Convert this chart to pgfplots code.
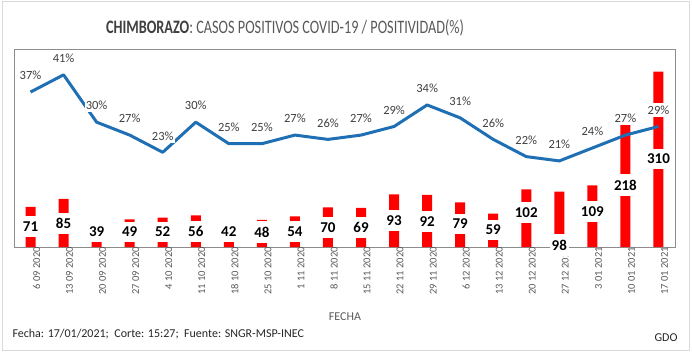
\documentclass[border=0pt]{standalone}
\usepackage{graphicx}
\usepackage{pgfplots}
\pgfplotsset{compat=1.18}
\usepackage{fontspec}
\setmainfont{Carlito}
\definecolor{barred}{RGB}{255,0,0}
\definecolor{lineblue}{RGB}{31,111,180}
\definecolor{txt}{RGB}{64,64,64}
\definecolor{tickc}{RGB}{89,89,89}
\begin{document}
\begin{tikzpicture}[x=1pt,y=1pt]
\useasboundingbox (0,0) rectangle (692,359);
\draw[draw=black!15, line width=1pt] (2,9) rectangle (689,357);
% title
\node[font=\fontsize{19}{19}\selectfont, text=tickc] at (285,331)
  {\scalebox{0.75}[1]{\textcolor{txt}{\textbf{CHIMBORAZO}}: CASOS POSITIVOS COVID-19 / POSITIVIDAD(\%)}};
\node[font=\fontsize{12}{12}\selectfont, text=tickc] at (345,42) {FECHA};
\node[font=\fontsize{12}{12}\selectfont, text=black!85, anchor=west] at (9,25)
  {Fecha: 17/01/2021;\ \ Corte: 15:27;\ \ Fuente: SNGR-MSP-INEC};
\node[font=\fontsize{12}{12}\selectfont, text=black!85, anchor=east] at (681,21) {GDO};

\begin{axis}[at={(14pt,112pt)}, anchor=south west, scale only axis,
  width=661pt, height=198pt,
  xmin=-0.5, xmax=19.5, ymin=0, ymax=350,
  axis line style={draw=black!45, line width=0.6pt},
  ytick=\empty, xtick={0,...,19}, major tick length=0pt,
  xticklabels={6 09 2020,13 09 2020,20 09 2020,27 09 2020,4 10 2020,11 10 2020,18 10 2020,25 10 2020,1 11 2020,8 11 2020,15 11 2020,22 11 2020,29 11 2020,6 12 2020,13 12 2020,20 12 2020,27 12 2020,3 01 2021,10 01 2021,17 01 2021},
  xticklabel style={rotate=90, anchor=east, inner sep=0pt, yshift=-6pt,
    font=\fontsize{10.5}{10.5}\selectfont, text=tickc},
  clip=false]
\addplot[ybar, bar width=10pt, bar shift=0pt, fill=barred, draw=none] coordinates {
(0,71) (1,85) (2,39) (3,49) (4,52) (5,56) (6,42) (7,48) (8,54) (9,70)
(10,69) (11,93) (12,92) (13,79) (14,59) (15,102) (16,98) (17,109) (18,218) (19,310)};
\end{axis}

\begin{axis}[at={(14pt,112pt)}, anchor=south west, scale only axis,
  width=661pt, height=198pt,
  xmin=-0.5, xmax=19.5, ymin=1, ymax=47, hide axis, clip=false]
\addplot[lineblue, line width=3pt, line join=round, mark=none] coordinates {
(0,37) (1,41) (2,30) (3,27) (4,23) (5,30) (6,25) (7,25) (8,27) (9,26)
(10,27) (11,29) (12,34) (13,31) (14,26) (15,22) (16,21) (17,24) (18,27) (19,29)};
\addplot[draw=none, mark=none, point meta=explicit symbolic,
  nodes near coords={\pgfplotspointmeta\%},
  every node near coord/.append style={anchor=center, yshift=16.5pt, fill=white,
    inner xsep=1pt, inner ysep=2.5pt, text=txt, font=\fontsize{12.5}{12.5}\selectfont}]
coordinates {
(0,37)[37] (1,41)[41] (2,30)[30] (3,27)[27] (4,23)[23] (5,30)[30] (6,25)[25] (7,25)[25] (8,27)[27] (9,26)[26]
(10,27)[27] (11,29)[29] (12,34)[34] (13,31)[31] (14,26)[26] (15,22)[22] (16,21)[21] (17,24)[24] (18,27)[27] (19,29)[29]};
\end{axis}

\begin{axis}[at={(14pt,112pt)}, anchor=south west, scale only axis,
  width=661pt, height=198pt,
  xmin=-0.5, xmax=19.5, ymin=0, ymax=350, hide axis, clip=false]
\addplot[draw=none, mark=none, point meta=explicit symbolic,
  nodes near coords={\pgfplotspointmeta},
  every node near coord/.append style={anchor=center, fill=white,
    inner xsep=2pt, inner ysep=5.5pt, text=black,
    font=\bfseries\fontsize{15}{15}\selectfont}]
coordinates {
(0,36.2)[71] (1,41.5)[85] (2,26.5)[39] (3,26.5)[49] (4,26.5)[52] (5,27.4)[56] (6,26.5)[42] (7,26.5)[48] (8,27.4)[54] (9,34.5)[70]
(10,34)[69] (11,46.8)[93] (12,44.7)[92] (13,40.7)[79] (14,30)[59] (15,61)[102] (16,3.5)[98] (17,62.8)[109] (18,109.6)[218] (19,155.6)[310]};
\end{axis}
\end{tikzpicture}
\end{document}
